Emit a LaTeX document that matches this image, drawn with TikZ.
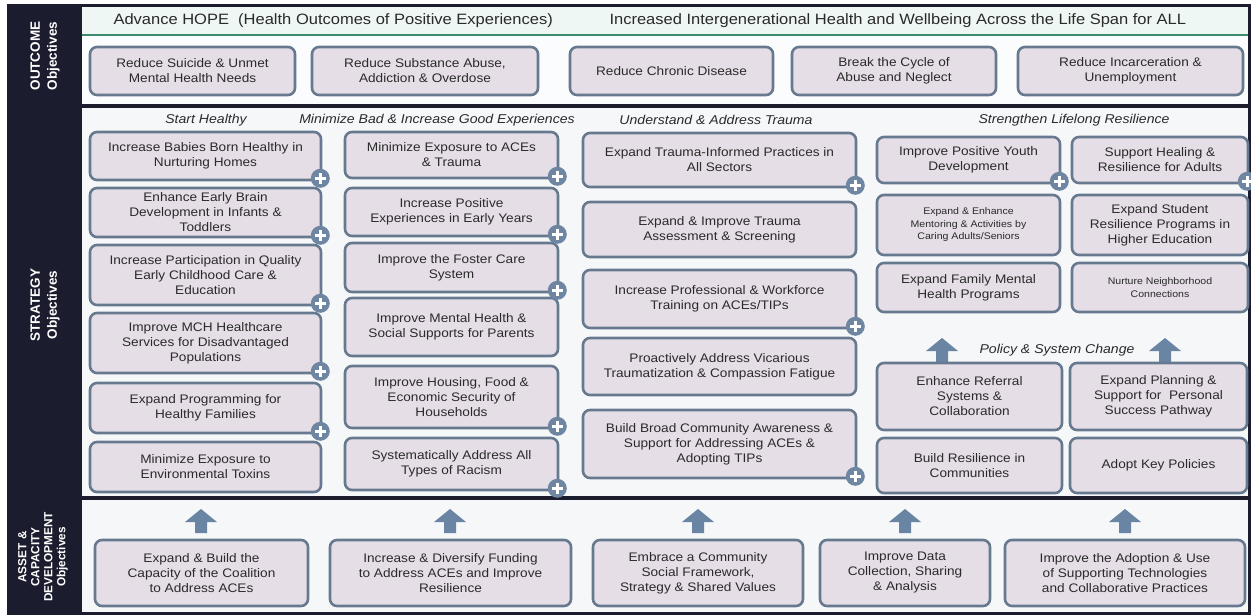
\documentclass[tikz,border=0pt]{standalone}
\usepackage{fontspec}
\setmainfont{Liberation Sans}[FakeStretch=1.1]
\newfontfamily\sidefont{Liberation Sans}

\definecolor{frame}{HTML}{1B1C2D}
\definecolor{boxfill}{HTML}{E6DEE7}
\definecolor{boxedge}{HTML}{66798F}
\definecolor{plusblue}{HTML}{6E86A2}
\definecolor{arrowblue}{HTML}{6A85A3}
\definecolor{bandfill}{HTML}{EEF7F3}
\definecolor{bandline}{HTML}{3E8C70}
\definecolor{panel}{HTML}{F5F7F9}
\definecolor{ink}{HTML}{2A2A2A}

\tikzset{
  objbox/.style={rounded corners=7pt, draw=boxedge, line width=2.6pt, fill=boxfill,
    align=center, text=ink, inner sep=2pt, font=\fontsize{12.4}{15}\selectfont},
  smalltext/.style={font=\fontsize{9.6}{12.5}\selectfont},
  plusmark/.style={circle, fill=plusblue, minimum size=19pt, inner sep=0pt,
    path picture={
      \draw[white, line width=2.8pt]
        ([xshift=-5.5pt]path picture bounding box.center) -- ([xshift=5.5pt]path picture bounding box.center)
        ([yshift=-5.5pt]path picture bounding box.center) -- ([yshift=5.5pt]path picture bounding box.center);}},
  blockarrow/.style={fill=arrowblue},
  heading/.style={font=\itshape\fontsize{12.8}{15}\selectfont, text=ink},
  bandtext/.style={font=\fontsize{15}{17}\selectfont, text=ink, anchor=west},
  sidelabel/.style={rotate=90, text=white, align=center},
}

% box from (x1,y1) to (x2,y2), named, with text
\newcommand\objnode[7][]{\node[objbox,#1,minimum width={(#5-#3)*1pt},minimum height={(#6-#4)*1pt}] (#2) at ({(#3+#5)/2},{(#4+#6)/2}) {#7};}
% plus badge on the lower right corner of a box
\newcommand\plusat[1]{\node[plusmark] (#1p) at ([xshift=-2pt,yshift=3pt]#1.south east) {};}
% upward block arrow whose tip is at (x,y)
\newcommand\uparrowat[2]{\fill[blockarrow] (#1,#2) -- ++(16,13) -- ++(-10,0) -- ++(0,11) -- ++(-12,0) -- ++(0,-11) -- ++(-10,0) -- cycle;}

\begin{document}
\begin{tikzpicture}[x=1pt,y=-1pt]
\useasboundingbox (0,0) rectangle (1251,616);
\fill[white] (0,0) rectangle (1251,616);

% panels
\fill[bandfill] (82,6) rectangle (1249,35);
\draw[bandline, line width=2pt] (82,35) -- (1249,35);
\fill[white!60!panel] (82,36) rectangle (1249,104);
\fill[panel] (82,108) rectangle (1249,496);
\fill[panel] (82,500) rectangle (1249,611);

% frame, side bar and section rules
\fill[frame] (8,4) rectangle (82,614);
\draw[frame, line width=3pt] (8,5) rectangle (1249,613);
\draw[frame, line width=4pt] (8,106) -- (1249,106);
\draw[frame, line width=4pt] (8,498) -- (1249,498);

\node[sidelabel, font=\sidefont\bfseries\fontsize{13.5}{17}\selectfont] (lout) at (45,56) {OUTCOME\\Objectives};
\node[sidelabel, font=\sidefont\bfseries\fontsize{13.5}{17}\selectfont] (lstr) at (45,305) {STRATEGY\\Objectives};
\node[sidelabel, font=\sidefont\bfseries\fontsize{11.8}{13}\selectfont] (lasset) at (43,557) {ASSET \&\\CAPACITY\\DEVELOPMENT\\Objectives};

% header band
\node[bandtext] (hope) at (110,21) {Advance HOPE\ \ (Health Outcomes of Positive Experiences)};
\node[bandtext] (life) at (606,21) {Increased Intergenerational Health and Wellbeing Across the Life Span for ALL};

% outcome objectives
\objnode{o1}{90}{47}{295}{95}{Reduce Suicide \& Unmet\\Mental Health Needs}
\objnode{o2}{312}{47}{538}{95}{Reduce Substance Abuse,\\Addiction \& Overdose}
\objnode{o3}{570}{47}{773}{95}{Reduce Chronic Disease}
\objnode{o4}{792}{47}{996}{95}{Break the Cycle of\\Abuse and Neglect}
\objnode{o5}{1018}{47}{1243}{95}{Reduce Incarceration \&\\Unemployment}

% strategy headings
\node[heading] (h1) at (206,120) {Start Healthy};
\node[heading] (h2) at (437,120) {Minimize Bad \& Increase Good Experiences};
\node[heading] (h3) at (716,120) {Understand \& Address Trauma};
\node[heading] (h4) at (1074,120) {Strengthen Lifelong Resilience};

% start healthy
\objnode{s11}{90}{132}{321}{180}{Increase Babies Born Healthy in\\Nurturing Homes}
\objnode{s12}{90}{188}{321}{237}{Enhance Early Brain\\Development in Infants \&\\Toddlers}
\objnode{s13}{90}{245}{321}{305}{Increase Participation in Quality\\Early Childhood Care \&\\Education}
\objnode{s14}{90}{313}{321}{373}{Improve MCH Healthcare\\Services for Disadvantaged\\Populations}
\objnode{s15}{90}{383}{321}{433}{Expand Programming for\\Healthy Families}
\objnode{s16}{90}{442}{321}{492}{Minimize Exposure to\\Environmental Toxins}
\plusat{s11}\plusat{s12}\plusat{s13}\plusat{s14}\plusat{s15}

% minimize bad, increase good
\objnode{s21}{345}{132}{558}{178}{Minimize Exposure to ACEs\\\& Trauma}
\objnode{s22}{345}{188}{558}{236}{Increase Positive\\Experiences in Early Years}
\objnode{s23}{345}{243}{558}{292}{Improve the Foster Care\\System}
\objnode{s24}{345}{298}{558}{356}{Improve Mental Health \&\\Social Supports for Parents}
\objnode{s25}{345}{366}{558}{428}{Improve Housing, Food \&\\Economic Security of\\Households}
\objnode{s26}{345}{438}{558}{490}{Systematically Address All\\Types of Racism}
\plusat{s21}\plusat{s22}\plusat{s23}\plusat{s25}\plusat{s26}

% understand and address trauma
\objnode{s31}{583}{133}{856}{187}{Expand Trauma-Informed Practices in\\All Sectors}
\objnode{s32}{583}{202}{856}{257}{Expand \& Improve Trauma\\Assessment \& Screening}
\objnode{s33}{583}{270}{856}{328}{Increase Professional \& Workforce\\Training on ACEs/TIPs}
\objnode{s34}{583}{338}{856}{395}{Proactively Address Vicarious\\Traumatization \& Compassion Fatigue}
\objnode{s35}{583}{410}{856}{478}{Build Broad Community Awareness \&\\Support for Addressing ACEs \&\\Adopting TIPs}
\plusat{s31}\plusat{s33}\plusat{s35}

% strengthen lifelong resilience
\objnode{s41}{877}{137}{1060}{183}{Improve Positive Youth\\Development}
\objnode{s42}{1072}{137}{1248}{183}{Support Healing \&\\Resilience for Adults}
\objnode[smalltext]{s43}{877}{195}{1060}{255}{Expand \& Enhance\\Mentoring \& Activities by\\Caring Adults/Seniors}
\objnode{s44}{1072}{195}{1248}{255}{Expand Student\\Resilience Programs in\\Higher Education}
\objnode{s45}{877}{263}{1060}{312}{Expand Family Mental\\Health Programs}
\objnode[smalltext]{s46}{1072}{263}{1248}{312}{Nurture Neighborhood\\Connections}
\plusat{s41}\plusat{s42}

% policy and system change
\uparrowat{942}{338}
\uparrowat{1165}{338}
\node[heading] (h5) at (1057,350) {Policy \& System Change};
\objnode{s47}{877}{363}{1062}{430}{Enhance Referral\\Systems \&\\Collaboration}
\objnode{s48}{1070}{363}{1247}{430}{Expand Planning \&\\Support for\ \ Personal\\Success Pathway}
\objnode{s49}{877}{438}{1062}{493}{Build Resilience in\\Communities}
\objnode{s410}{1070}{438}{1247}{493}{Adopt Key Policies}

% asset and capacity development
\objnode{a1}{95}{540}{308}{606}{Expand \& Build the\\Capacity of the Coalition\\to Address ACEs}
\objnode{a2}{330}{540}{571}{606}{Increase \& Diversify Funding\\to Address ACEs and Improve\\Resilience}
\objnode{a3}{593}{540}{803}{606}{Embrace a Community\\Social Framework,\\Strategy \& Shared Values}
\objnode{a4}{820}{540}{990}{606}{Improve Data\\Collection, Sharing\\\& Analysis}
\objnode{a5}{1005}{540}{1245}{606}{Improve the Adoption \& Use\\of Supporting Technologies\\and Collaborative Practices}
\uparrowat{201}{509}
\uparrowat{450}{509}
\uparrowat{698}{509}
\uparrowat{905}{509}
\uparrowat{1125}{509}
\end{tikzpicture}
\end{document}
